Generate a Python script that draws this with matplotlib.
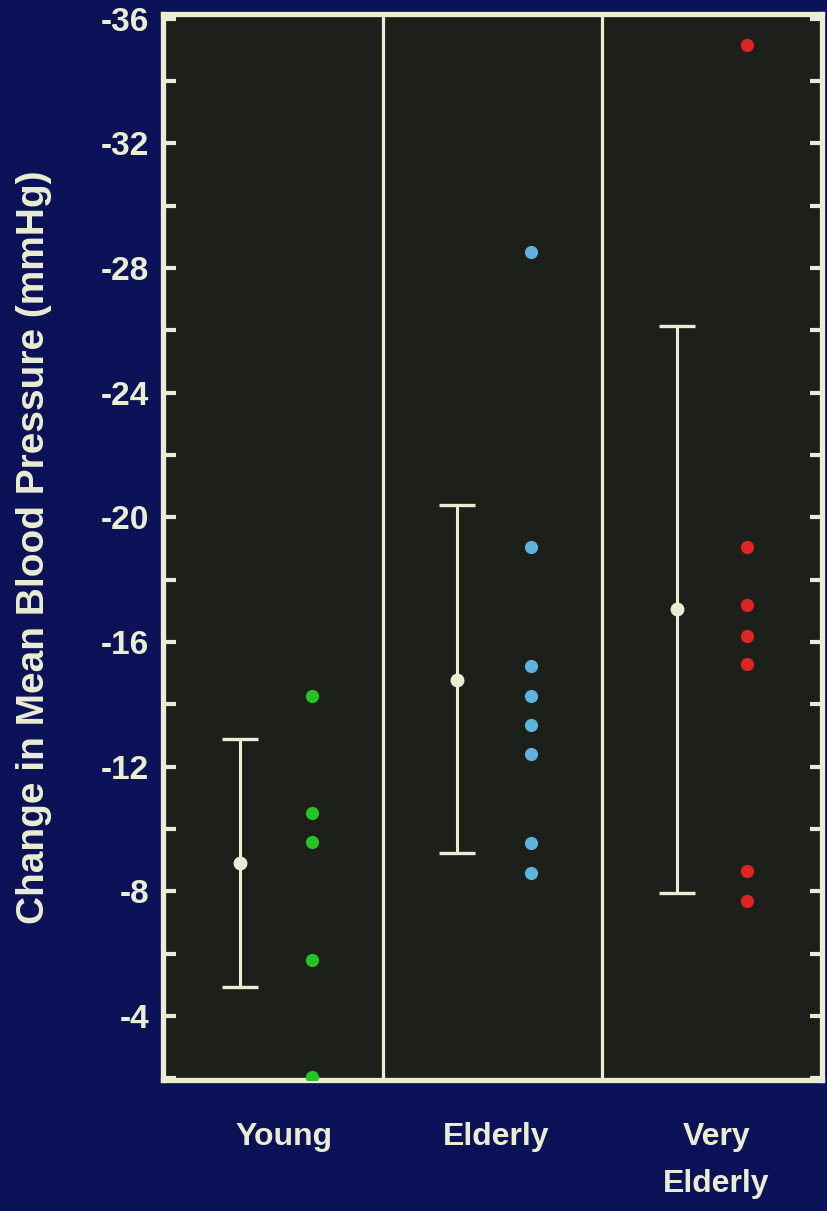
import matplotlib
matplotlib.use("Agg")
import matplotlib.pyplot as plt
from matplotlib.ticker import MultipleLocator

# ---- data ----
groups = ["Young", "Elderly", "Very\nElderly"]
young_pts = [-14.27, -10.52, -9.59, -5.80, -2.05]
elderly_pts = [-28.52, -19.06, -15.24, -14.27, -13.34, -12.41, -9.56, -8.59]
very_elderly_pts = [-35.17, -19.06, -17.18, -16.20, -15.30, -8.66, -7.69]
means = [-8.91, -14.79, -17.05]
err_low = [-4.93, -9.17, -7.95]    # less negative end
err_high = [-12.89, -20.34, -26.15]  # more negative end
yticks = [-4, -8, -12, -16, -20, -24, -28, -32, -36]

# ---- style ----
BG = "#0b1258"
PANEL = "#1d1f1b"
CREAM = "#ebedd2"
dot_colors = ["#25c425", "#5fb3dc", "#e02424"]

plt.rcParams['font.family'] = ['Liberation Sans', 'DejaVu Sans']

fig = plt.figure(figsize=(8.27, 12.11), dpi=100, facecolor=BG)
ax = fig.add_axes([163/827, 1 - 1080/1211, (822-163)/827, (1080-14)/1211])
ax.set_facecolor(PANEL)

ax.set_xlim(0, 3)
ax.set_ylim(-1.95, -36.15)

for sp in ax.spines.values():
    sp.set_color(CREAM)
    sp.set_linewidth(3.8)

for xd in [1, 2]:
    ax.axvline(xd, color=CREAM, lw=2.3, zorder=2)

err_x = [0.35, 1.34, 2.34]
pt_x = [0.68, 1.675, 2.66]
all_pts = [young_pts, elderly_pts, very_elderly_pts]

for i in range(3):
    lo = means[i] - err_high[i]
    hi = err_low[i] - means[i]
    ax.errorbar([err_x[i]], [means[i]], yerr=[[hi], [lo]], fmt='o', color=CREAM,
                ecolor=CREAM, elinewidth=2.2, capsize=13, capthick=2.4,
                markersize=9, zorder=3)
    ax.plot([pt_x[i]] * len(all_pts[i]), all_pts[i], 'o', color=dot_colors[i],
            markersize=9.5, markeredgewidth=0, zorder=3, clip_on=True)

ax.yaxis.set_major_locator(plt.FixedLocator(yticks))
ax.yaxis.set_minor_locator(MultipleLocator(2))
ax.tick_params(axis='y', which='both', direction='in', length=9, width=3,
               color=CREAM, left=True, right=True)
ax.tick_params(axis='y', which='major', labelsize=24, labelcolor=CREAM, pad=10)
ax.set_yticklabels([str(v) for v in yticks], fontweight='bold')

ax.set_xticks([0.55, 1.515, 2.52])
ax.set_xticklabels(groups, fontsize=23, fontweight='bold', color=CREAM,
                   linespacing=1.75, va='top')
ax.tick_params(axis='x', length=0, pad=30)

fig.text(34/827, 1 - 547/1211, "Change in Mean Blood Pressure (mmHg)",
         rotation=90, ha='center', va='center', fontsize=28, fontweight='bold',
         color=CREAM)

fig.savefig("out.png", dpi=100, facecolor=BG)
